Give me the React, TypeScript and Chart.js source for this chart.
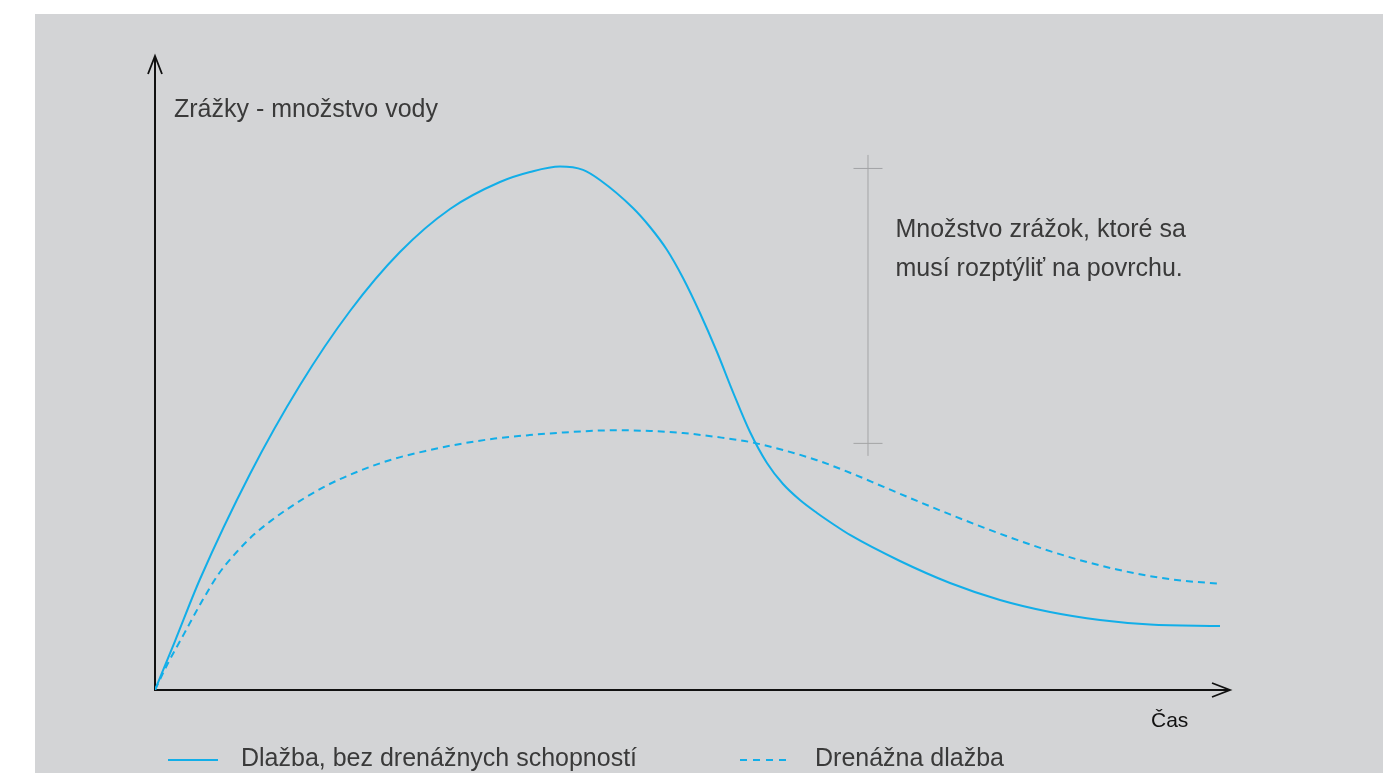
import React, { useEffect, useRef } from "react";
import { Chart, registerables } from "chart.js";

Chart.register(...registerables);

// Time axis (0..100) and water amount (0..100)
const solidX = [0, 1.88, 4.23, 8.92, 13.62, 18.31, 23.0, 27.7, 32.39, 35.21, 38.03, 40.19, 41.78, 44.88, 46.48, 48.08, 49.58, 51.17, 52.77, 54.27, 55.87, 57.46, 58.97, 60.56, 62.16, 63.66, 65.26, 69.95, 74.65, 79.34, 84.04, 88.73, 93.43, 100];
const solidY = [0, 7.75, 17.56, 34.18, 48.26, 59.97, 69.3, 76.11, 80.38, 81.96, 82.83, 82.3, 80.7, 76.27, 73.26, 69.62, 65.19, 59.65, 53.48, 47.15, 40.82, 35.92, 32.59, 30.06, 28.01, 26.27, 24.53, 20.41, 16.93, 14.24, 12.34, 11.08, 10.36, 10.13];

const dashedX = [0, 1.13, 2.75, 4.38, 5.99, 7.61, 9.23, 10.85, 12.47, 15.7, 18.94, 22.18, 25.42, 28.66, 31.9, 35.13, 38.37, 43.22, 46.48, 49.58, 52.77, 55.87, 58.97, 62.16, 65.26, 68.36, 71.55, 74.65, 77.75, 80.94, 84.04, 87.14, 90.33, 93.43, 96.53, 100];
const dashedY = [0, 3.96, 8.96, 13.96, 18.4, 21.72, 24.51, 26.72, 28.67, 31.99, 34.49, 36.44, 37.83, 38.94, 39.78, 40.33, 40.75, 41.1, 40.98, 40.66, 40.03, 39.24, 37.97, 36.36, 34.38, 32.18, 29.92, 27.78, 25.74, 23.75, 21.98, 20.41, 19.07, 18.02, 17.29, 16.82];

const seriesLabels = ["Dlažba, bez drenážnych schopností", "Drenážna dlažba"];
const yAxisTitle = "Zrážky - množstvo vody";
const xAxisTitle = "Čas";
const noteLines = ["Množstvo zrážok, ktoré sa", "musí rozptýliť na povrchu."];
const noteRange = [82.6, 39.1];
const noteX = 66.9;

const BLUE = "#12aee8";
const TEXT = "#3a3a3a";
const FAMILY = '"Liberation Sans", Arial, sans-serif';

const decorPlugin = {
  id: "decor",
  beforeDraw(chart: any) {
    const ctx = chart.ctx;
    ctx.save();
    ctx.fillStyle = "#ffffff";
    ctx.fillRect(0, 0, chart.width, chart.height);
    ctx.fillStyle = "#d3d4d6";
    ctx.fillRect(35, 14, chart.width - 35, chart.height - 14);
    ctx.restore();
  },
  beforeDatasetsDraw(chart: any) {
    const ctx = chart.ctx;
    const xs = chart.scales.x;
    const ys = chart.scales.y;
    const ox = xs.getPixelForValue(0);
    const oy = ys.getPixelForValue(0);
    const topY = ys.getPixelForValue(100) - 2;
    const rightX = xs.getPixelForValue(100) + 10;
    ctx.save();
    ctx.strokeStyle = "#111111";
    ctx.lineWidth = 2;
    ctx.lineCap = "butt";
    ctx.beginPath();
    ctx.moveTo(ox, oy + 1);
    ctx.lineTo(ox, topY);
    ctx.moveTo(ox - 1, oy);
    ctx.lineTo(rightX, oy);
    ctx.stroke();
    ctx.lineWidth = 1.8;
    ctx.beginPath();
    ctx.moveTo(ox - 7, topY + 18);
    ctx.lineTo(ox, topY);
    ctx.lineTo(ox + 7, topY + 18);
    ctx.moveTo(rightX - 18, oy - 7);
    ctx.lineTo(rightX, oy);
    ctx.lineTo(rightX - 18, oy + 7);
    ctx.stroke();

    // range bracket
    const bx = xs.getPixelForValue(noteX);
    const y1 = ys.getPixelForValue(noteRange[0]);
    const y2 = ys.getPixelForValue(noteRange[1]);
    ctx.strokeStyle = "#a3a4a6";
    ctx.lineWidth = 1;
    ctx.beginPath();
    ctx.moveTo(bx + 0.5, y1 - 13);
    ctx.lineTo(bx + 0.5, y2 + 13);
    ctx.moveTo(bx - 14, y1 + 0.5);
    ctx.lineTo(bx + 15, y1 + 0.5);
    ctx.moveTo(bx - 14, y2 + 0.5);
    ctx.lineTo(bx + 15, y2 + 0.5);
    ctx.stroke();
    ctx.restore();
  },
  afterDraw(chart: any) {
    const ctx = chart.ctx;
    const xs = chart.scales.x;
    ctx.save();
    ctx.font = "25px " + FAMILY;
    ctx.fillStyle = TEXT;
    ctx.textBaseline = "alphabetic";
    ctx.textAlign = "left";
    ctx.fillText(yAxisTitle, xs.getPixelForValue(0) + 19, 117);
    const bx = xs.getPixelForValue(noteX);
    ctx.fillText(noteLines[0], bx + 28, 237);
    ctx.fillText(noteLines[1], bx + 28, 276);

    ctx.fillStyle = "#111111";
    ctx.font = "21px " + FAMILY;
    ctx.fillText(xAxisTitle, 1151, 727);

    // legend
    const ly = 760;
    ctx.strokeStyle = BLUE;
    ctx.lineWidth = 2;
    ctx.beginPath();
    ctx.moveTo(168, ly);
    ctx.lineTo(218, ly);
    ctx.stroke();
    ctx.setLineDash([7, 6]);
    ctx.beginPath();
    ctx.moveTo(740, ly);
    ctx.lineTo(792, ly);
    ctx.stroke();
    ctx.setLineDash([]);
    ctx.fillStyle = TEXT;
    ctx.font = "25px " + FAMILY;
    ctx.fillText(seriesLabels[0], 241, 766);
    ctx.fillText(seriesLabels[1], 815, 766);
    ctx.restore();
  },
};

export default function App() {
  const ref = useRef<HTMLCanvasElement>(null);
  useEffect(() => {
    if (!ref.current) return;
    const chart = new Chart(ref.current, {
      type: "line",
      data: {
        datasets: [
          {
            label: seriesLabels[0],
            data: solidX.map((x, i) => ({ x, y: solidY[i] })),
            borderColor: BLUE,
            borderWidth: 2,
            pointRadius: 0,
            cubicInterpolationMode: "monotone",
            fill: false,
          },
          {
            label: seriesLabels[1],
            data: dashedX.map((x, i) => ({ x, y: dashedY[i] })),
            borderColor: BLUE,
            borderWidth: 2,
            borderDash: [7, 5],
            pointRadius: 0,
            cubicInterpolationMode: "monotone",
            fill: false,
          },
        ],
      },
      options: {
        animation: false,
        responsive: false,
        devicePixelRatio: 1,
        layout: { padding: { left: 155, right: 163, top: 58, bottom: 83 } },
        scales: {
          x: { type: "linear", min: 0, max: 100, display: false },
          y: { type: "linear", min: 0, max: 100, display: false },
        },
        plugins: { legend: { display: false }, tooltip: { enabled: false } },
        events: [],
      },
      plugins: [decorPlugin],
    } as any);
    return () => chart.destroy();
  }, []);
  return (
    <canvas
      ref={ref}
      width={1383}
      height={773}
      style={{ position: "absolute", left: 0, top: 0, width: 1383, height: 773 }}
    />
  );
}
